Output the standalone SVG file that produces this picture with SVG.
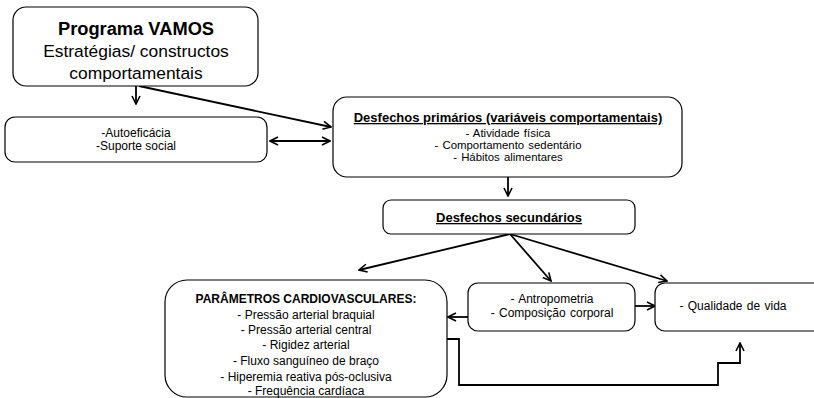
<svg xmlns="http://www.w3.org/2000/svg" width="814" height="398" viewBox="0 0 814 398">
<style>
.box{fill:#fff;stroke:#000;stroke-width:1.2}
.t{font-family:"Liberation Sans",Arial,sans-serif;fill:#000;text-anchor:middle}
.b{font-weight:bold}
.u{text-decoration:underline}
.c{fill:none;stroke:#000;stroke-width:1.8}
</style>
<defs>
<marker id="ah" viewBox="0 0 10 10" refX="9" refY="5" markerWidth="10" markerHeight="10" markerUnits="userSpaceOnUse" orient="auto-start-reverse">
<path d="M1,1 L9,5 L1,9" fill="none" stroke="#000" stroke-width="1.6"/>
</marker>
</defs>
<rect width="814" height="398" fill="#fff"/>
<g id="connectors">
<line class="c" x1="136" y1="86" x2="136" y2="104" marker-end="url(#ah)"/>
<line class="c" x1="139" y1="86" x2="331" y2="127" marker-end="url(#ah)"/>
<line class="c" x1="270" y1="141" x2="330" y2="141" marker-start="url(#ah)" marker-end="url(#ah)"/>
<line class="c" x1="508" y1="177" x2="508" y2="196" marker-end="url(#ah)"/>
<line class="c" x1="510" y1="234" x2="359" y2="270" marker-end="url(#ah)"/>
<line class="c" x1="510" y1="234" x2="551" y2="281" marker-end="url(#ah)"/>
<line class="c" x1="510" y1="234" x2="667" y2="281" marker-end="url(#ah)"/>
<line class="c" x1="468" y1="317" x2="448" y2="317" marker-end="url(#ah)"/>
<line class="c" x1="635" y1="306" x2="655" y2="306" marker-end="url(#ah)"/>
<polyline class="c" points="447,339 459,339 459,385 718,385 718,363 740,363 740,343" marker-end="url(#ah)"/>
</g>
<g id="programa">
<rect class="box" x="13" y="7" width="245" height="79" rx="13"/>
<text class="t b" x="136" y="35" font-size="18.3">Programa VAMOS</text>
<text class="t" x="136" y="57" font-size="17.4">Estratégias/ constructos</text>
<text class="t" x="136" y="79" font-size="17.4">comportamentais</text>
</g>
<g id="autoeficacia">
<rect class="box" x="5" y="117" width="262" height="45" rx="10"/>
<text class="t" x="136" y="137" font-size="12">-Autoeficácia</text>
<text class="t" x="136" y="150" font-size="12">-Suporte social</text>
</g>
<g id="primarios">
<rect class="box" x="333" y="97" width="349" height="80" rx="14"/>
<text class="t b u" x="508" y="122" font-size="13">Desfechos primários (variáveis comportamentais)</text>
<text class="t" x="508" y="137" font-size="11.4" word-spacing="1">- Atividade física</text>
<text class="t" x="508" y="149" font-size="11.4" word-spacing="1">- Comportamento sedentário</text>
<text class="t" x="508" y="161" font-size="11.4" word-spacing="1">- Hábitos alimentares</text>
</g>
<g id="secundarios">
<rect class="box" x="383" y="200" width="252" height="34" rx="8"/>
<text class="t b u" x="509" y="222" font-size="13">Desfechos secundários</text>
</g>
<g id="cardio">
<rect class="box" x="165" y="280" width="282" height="117" rx="22"/>
<text class="t b" x="306" y="303" font-size="12">PARÂMETROS CARDIOVASCULARES:</text>
<text class="t" x="306" y="319" font-size="12">- Pressão arterial braquial</text>
<text class="t" x="306" y="334" font-size="12">- Pressão arterial central</text>
<text class="t" x="306" y="349" font-size="12">- Rigidez arterial</text>
<text class="t" x="306" y="365" font-size="12">- Fluxo sanguíneo de braço</text>
<text class="t" x="306" y="381" font-size="12">- Hiperemia reativa pós-oclusiva</text>
<text class="t" x="306" y="395" font-size="12">- Frequência cardíaca</text>
</g>
<g id="antropometria">
<rect class="box" x="468" y="283" width="167" height="48" rx="10"/>
<text class="t" x="552" y="303" font-size="12" word-spacing="1">- Antropometria</text>
<text class="t" x="552" y="317" font-size="12" word-spacing="1">- Composição corporal</text>
</g>
<g id="qualidade">
<rect class="box" x="655" y="283" width="180" height="48" rx="10"/>
<text class="t" x="733" y="310" font-size="12" word-spacing="1">- Qualidade de vida</text>
</g>
</svg>
